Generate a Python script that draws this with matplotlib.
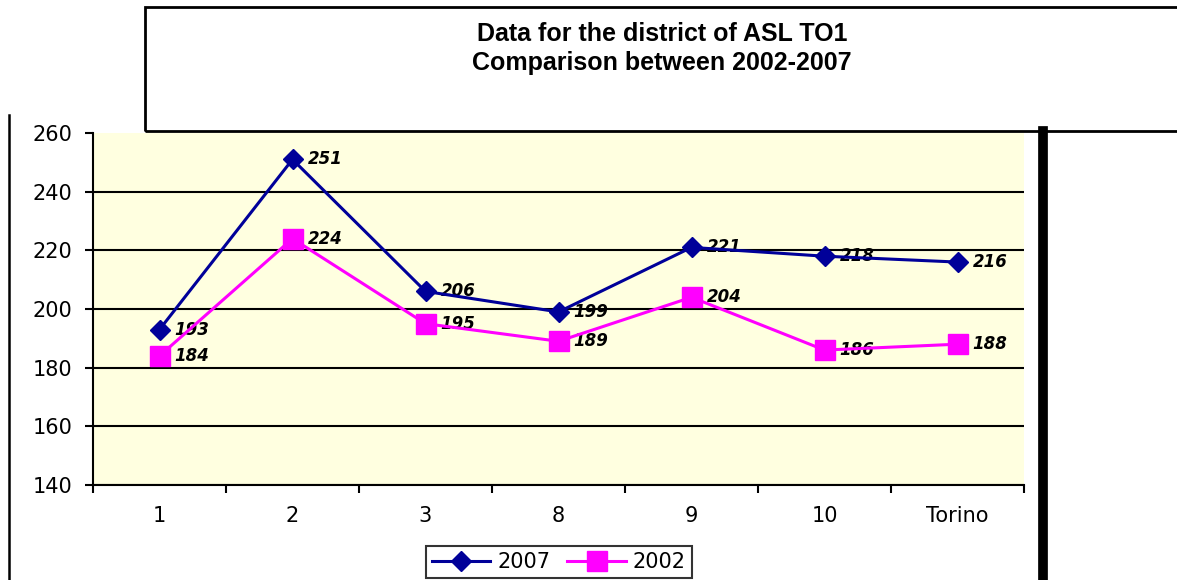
import numpy as np
import matplotlib
matplotlib.use("Agg")
import matplotlib.pyplot as plt
from matplotlib.lines import Line2D
from matplotlib.patches import Rectangle

plt.rcParams["font.family"] = ["DejaVu Sans"]

districts = ["1", "2", "3", "8", "9", "10", "Torino"]
vals_2007 = [193, 251, 206, 199, 221, 218, 216]
vals_2002 = [184, 224, 195, 189, 204, 186, 188]
title_lines = ["Data for the district of ASL TO1", "Comparison between 2002-2007"]

W, H = 1177, 580
fig = plt.figure(figsize=(W / 100, H / 100), dpi=100)


def fx(px):
    return px / W


def fy(py):
    return 1 - py / H


# plot area in pixel terms
left, right, top, bottom = 93, 1024, 133, 485
ax = fig.add_axes([fx(left), fy(bottom), fx(right - left), (bottom - top) / H])
ax.set_facecolor("#FFFFE0")

x = np.arange(len(districts))
ax.plot(x, vals_2007, color="#000099", lw=2.2, marker="D", markersize=10,
        markerfacecolor="#000099", markeredgecolor="#000099", zorder=4, label="2007")
ax.plot(x, vals_2002, color="#FF00FF", lw=2.2, marker="s", markersize=14,
        markerfacecolor="#FF00FF", markeredgecolor="#FF00FF", zorder=4, label="2002")

lab_kw = dict(textcoords="offset points", ha="left", va="center", fontsize=12,
              fontweight="bold", fontstyle="italic", zorder=3)
for xi, v in zip(x, vals_2007):
    ax.annotate(str(v), (xi, v), xytext=(11, 0), **lab_kw)
for xi, v in zip(x, vals_2002):
    ax.annotate(str(v), (xi, v), xytext=(11, 0), **lab_kw)

ax.set_xlim(-0.5, len(districts) - 0.5)
ax.set_ylim(140, 260)
ax.set_yticks(np.arange(140, 261, 20))
ax.set_xticks(x)
ax.set_xticklabels(districts)
ax.set_xticks(np.arange(-0.5, len(districts)), minor=True)
ax.tick_params(axis="x", which="major", length=0, pad=15, labelsize=15)
ax.tick_params(axis="x", which="minor", length=6, width=1.5, direction="out")
ax.tick_params(axis="y", length=6, width=1.5, pad=9, labelsize=15)

ax.yaxis.grid(True, color="black", lw=1.5)
ax.get_ygridlines()[-1].set_visible(False)
ax.set_axisbelow(True)

for s in ["top", "right"]:
    ax.spines[s].set_visible(False)
for s in ["left", "bottom"]:
    ax.spines[s].set_linewidth(1.5)

# title box
fig.add_artist(Rectangle((fx(145), fy(131)), fx(W - 145 + 10), (131 - 7) / H,
                         transform=fig.transFigure, fill=False, lw=2,
                         edgecolor="black", clip_on=False))
fig.text(fx(662), fy(41), title_lines[0], ha="center", va="baseline",
         fontsize=18, fontweight="bold", family="Liberation Sans")
fig.text(fx(662), fy(70), title_lines[1], ha="center", va="baseline",
         fontsize=18, fontweight="bold", family="Liberation Sans")

# frame lines
fig.add_artist(Line2D([fx(9), fx(9)], [fy(115), 0], color="black", lw=1.8,
                      transform=fig.transFigure))
fig.add_artist(Line2D([fx(1043), fx(1043)], [fy(131), 0], color="black", lw=7,
                      transform=fig.transFigure))

leg = ax.legend(loc="center", bbox_to_anchor=(fx(559), fy(562)),
                bbox_transform=fig.transFigure, ncol=2, fontsize=15,
                frameon=True, fancybox=False, handlelength=2.8,
                columnspacing=0.8, handletextpad=0.35, borderpad=0.3,
                borderaxespad=0)
leg.get_frame().set_edgecolor("black")
leg.get_frame().set_linewidth(1.5)

fig.savefig("out.png", dpi=100)
